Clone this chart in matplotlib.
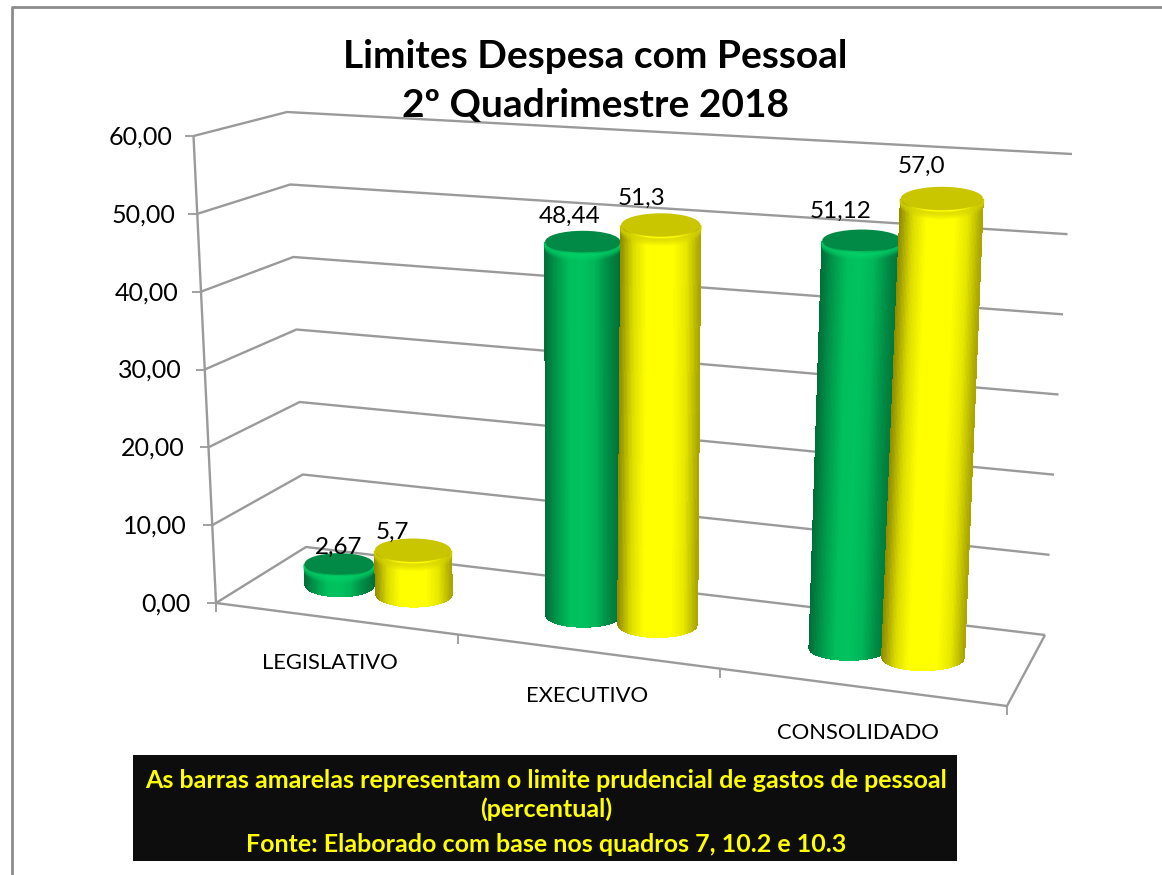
import numpy as np
import matplotlib
matplotlib.use("Agg")
import matplotlib.pyplot as plt
from matplotlib.collections import PolyCollection
from matplotlib.colors import LinearSegmentedColormap
from matplotlib.patches import Ellipse, Rectangle

# Dados do gráfico
categorias = ["LEGISLATIVO", "EXECUTIVO", "CONSOLIDADO"]
despesa = [2.67, 48.44, 51.12]
limite = [5.7, 51.3, 57.0]
rotulos_despesa = ["2,67", "48,44", "51,12"]
rotulos_limite = ["5,7", "51,3", "57,0"]
niveis = [0, 10, 20, 30, 40, 50, 60]
rotulos_niveis = ["0,00", "10,00", "20,00", "30,00", "40,00", "50,00", "60,00"]
titulo = ["Limites Despesa com Pessoal", "2º Quadrimestre 2018"]
nota = ["As barras amarelas representam o limite prudencial de gastos de pessoal",
        "(percentual)",
        "Fonte: Elaborado com base nos quadros 7, 10.2 e 10.3"]

plt.rcParams["font.family"] = ["Lato", "DejaVu Sans"]

# Cantos da caixa 3D em pixels: (frente/fundo, esquerda/direita, base/topo)
FE0, FD0, TE0, TD0 = np.array([216, 603.]), np.array([1007, 706.]), np.array([306, 547.]), np.array([1045, 635.])
FE1, FD1, TE1, TD1 = np.array([193.5, 136.]), np.array([1033, 190.]), np.array([287, 112.]), np.array([1072, 154.])
VMAX = 60.0


def proj(u, d, v):
    """u: eixo das categorias (0-1), d: profundidade (0-1), v: valor"""
    t = v / VMAX
    base = (1 - d) * ((1 - u) * FE0 + u * FD0) + d * ((1 - u) * TE0 + u * TD0)
    topo = (1 - d) * ((1 - u) * FE1 + u * FD1) + d * ((1 - u) * TE1 + u * TD1)
    return (1 - t) * base + t * topo


def linha(ax, pts, lw=1.7):
    pts = np.array(pts)
    ax.plot(pts[:, 0], pts[:, 1], color="#9a9a9a", lw=lw, solid_capstyle="butt", zorder=2)


def cilindro(ax, u, valor, rx, ry, cmap, cor_topo, cor_aro, z):
    b = proj(u, 0.5, 0)
    a = proj(u, 0.5, valor * 0.98)
    ts = np.linspace(-1, 1, 61)
    quads = []
    cores = []
    for t0, t1 in zip(ts[:-1], ts[1:]):
        s0, s1 = np.sqrt(1 - t0**2), np.sqrt(1 - t1**2)
        # a parte de cima fica no centro da tampa, a tampa cobre o resto
        quads.append([(b[0] + rx * t0, b[1] + ry * s0), (b[0] + rx * t1, b[1] + ry * s1),
                      (a[0] + rx * t1, a[1]), (a[0] + rx * t0, a[1])])
        cores.append(cmap((t0 + t1) / 4 + 0.5))
    ax.add_collection(PolyCollection(quads, facecolors=cores, edgecolors="none", antialiased=False, zorder=z))
    # aro: faixa suave logo abaixo da tampa
    t = np.linspace(-1, 1, 60)
    for k in range(7):
        ax.plot(a[0] + rx * t, a[1] + ry * np.sqrt(1 - t**2) + k, color=cor_aro, lw=1.3,
                alpha=0.6 * (1 - k / 7), zorder=z + 0.1)
    ax.add_patch(Ellipse((a[0], a[1] - 1), 2 * rx * 0.99, 2 * ry * 0.9, facecolor=cor_topo, edgecolor="none", zorder=z + 0.2))
    return a


fig = plt.figure(figsize=(11.62, 8.75), dpi=100)
ax = fig.add_axes([0, 0, 1, 1])
ax.set_xlim(0, 1162)
ax.set_ylim(875, 0)
ax.axis("off")

# moldura: só topo e esquerda aparecem
ax.plot([12, 12, 1162], [875, 6.5, 6.5], color="#8c8c8c", lw=2, zorder=1)

# linhas de grade nas paredes
for v, rot in zip(niveis, rotulos_niveis):
    linha(ax, [proj(0, 0, v), proj(0, 1, v), proj(1, 1, v)])
    p = proj(0, 0, v)
    linha(ax, [(p[0] - 9, p[1]), p], lw=1.3)
    ax.text(p[0] - 26 + v / 12, p[1] + 1, rot, ha="right", va="center", fontsize=18, color="black")
linha(ax, [proj(0, 0, 0), proj(0, 0, 60)])

# piso e marcas das categorias
marcas_u = [0, 0.306, 0.637, 1]
linha(ax, [proj(0, 0, 0), proj(1, 0, 0), proj(1, 1, 0)])
for u in marcas_u:
    p = proj(u, 0, 0)
    linha(ax, [p, (p[0], p[1] + 9)], lw=1.3)

verde = LinearSegmentedColormap.from_list("verde", ["#006d38", "#009a4c", "#00bf5c", "#00c25e", "#00b558", "#008c45", "#006f38"])
amarelo = LinearSegmentedColormap.from_list("amarelo", ["#8f8a00", "#dcdc00", "#ffff00", "#ffff00", "#ffff00", "#e6e600", "#a8a400"])

centros = [(a + b) / 2 for a, b in zip(marcas_u[:-1], marcas_u[1:])]
desloc_rotulo_v = [(0, -18), (-13, -26), (-21, -30)]
desloc_rotulo_a = [(-21, -19), (-19, -28), (-20, -33)]
pos_cat = [(330, 663), (587, 696), (858, 733)]
raio_v = [35, 38, 40]
raio_a = [38.5, 40, 41.5]

for i, c in enumerate(centros):
    topo_v = cilindro(ax, c - 0.05, despesa[i], raio_v[i], 12, verde, "#008a45", "#00d469", 3 + i)
    topo_a = cilindro(ax, c + 0.047, limite[i], raio_a[i], 13, amarelo, "#c9c600", "#d6d400", 3.5 + i)
    ax.text(topo_v[0] + desloc_rotulo_v[i][0], topo_v[1] + desloc_rotulo_v[i][1], rotulos_despesa[i],
            ha="center", va="center", fontsize=17.5, zorder=10)
    ax.text(topo_a[0] + desloc_rotulo_a[i][0], topo_a[1] + desloc_rotulo_a[i][1], rotulos_limite[i],
            ha="center", va="center", fontsize=17.5, zorder=10)
    ax.text(pos_cat[i][0], pos_cat[i][1], categorias[i], ha="center", va="center", fontsize=15.8, zorder=10)

# título
ax.text(595, 56, titulo[0], ha="center", va="center", fontsize=28, fontweight="bold", zorder=11)
ax.text(595, 106, titulo[1], ha="center", va="center", fontsize=28, fontweight="bold", zorder=11)

# caixa da nota
ax.add_patch(Rectangle((133, 755), 824, 106, facecolor="#0d0d0d", edgecolor="none", zorder=12))
for y, txt in zip([780, 809, 844], nota):
    ax.text(546, y, txt, ha="center", va="center", fontsize=18, fontweight="bold", color="#ffff00", zorder=13)

fig.savefig("out.png", dpi=100)
plt.close(fig)
